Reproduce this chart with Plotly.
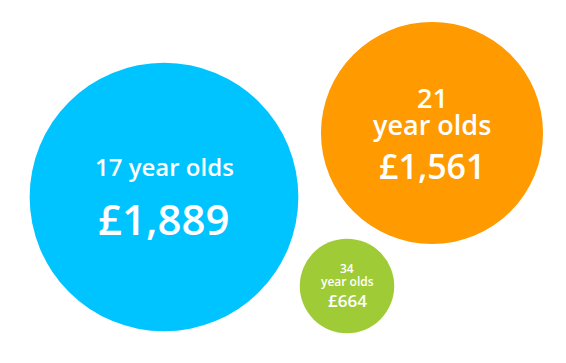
import plotly.graph_objects as go

# Data
ages = [17, 21, 34]
amounts = [1889, 1561, 664]
colors = ["#00C4FF", "#FF9A00", "#9FCC36"]

# Layout (pixel positions of bubble centres, canvas 566x363)
cx = [164, 432, 347]
cy = [197, 133, 286]
SIZEREF = 7.03  # value units per pixel of diameter

W, H = 566, 363
fig = go.Figure()
fig.add_trace(go.Scatter(
    x=cx, y=cy, mode="markers",
    marker=dict(size=amounts, sizemode="diameter", sizeref=SIZEREF,
                color=colors, opacity=1, line=dict(width=0)),
    hoverinfo="skip", showlegend=False,
))

FONT = "Open Sans"
styles = [
    dict(split=False, lab=-31, val=21, ls=24, vs=42),
    dict(split=True, age=-36, yo=-9, val=33, ls=27, vs=34),
    dict(split=True, age=-18, yo=-5, val=14, ls=12, vs=17),
]
ann = []
for a, v, x, y, s in zip(ages, amounts, cx, cy, styles):
    if s["split"]:
        ann.append(dict(x=x, y=y + s["age"], text=str(a), ls=s["ls"]))
        ann.append(dict(x=x, y=y + s["yo"], text="year olds", ls=s["ls"]))
    else:
        ann.append(dict(x=x, y=y + s["lab"], text=f"{a} year olds", ls=s["ls"]))
    ann.append(dict(x=x, y=y + s["val"], text=f"£{v:,}", ls=s["vs"]))

annotations = [
    dict(x=d["x"], y=d["y"], xref="x", yref="y", text=d["text"], showarrow=False,
         xanchor="center", yanchor="middle",
         font=dict(family=FONT, size=d["ls"], color="white", weight=600))
    for d in ann
]

fig.update_layout(
    width=W, height=H, margin=dict(l=0, r=0, t=0, b=0),
    paper_bgcolor="white", plot_bgcolor="white",
    xaxis=dict(range=[0, W], visible=False, fixedrange=True),
    yaxis=dict(range=[H, 0], visible=False, fixedrange=True),
    annotations=annotations,
)
fig.write_html("out.html", config={"displayModeBar": False})
